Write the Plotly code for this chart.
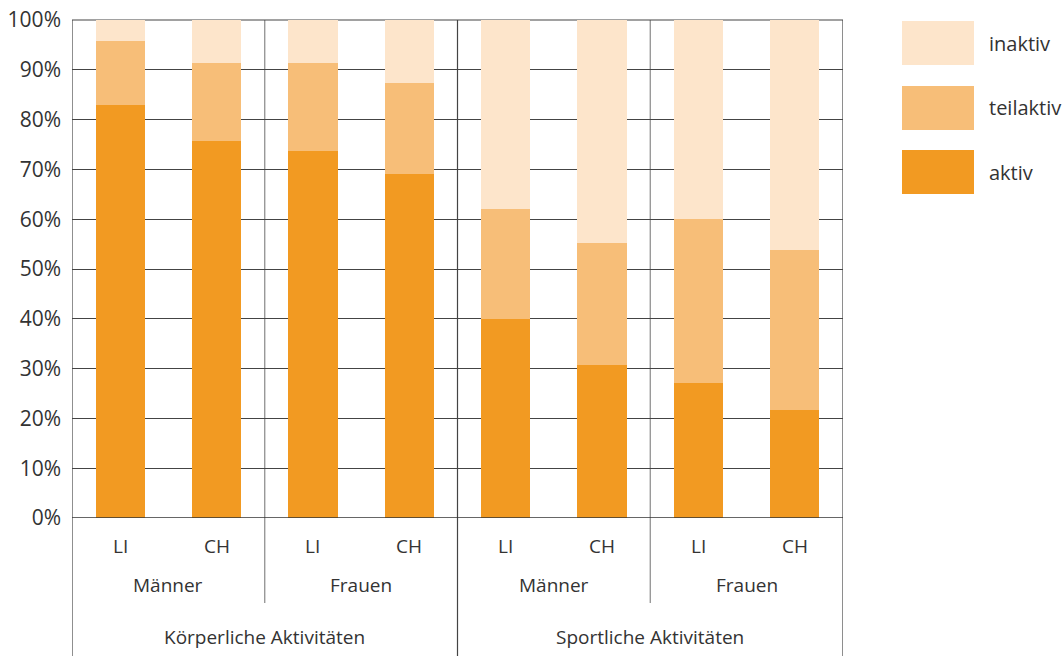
import plotly.graph_objects as go

# data
bar_labels = ["LI", "CH", "LI", "CH", "LI", "CH", "LI", "CH"]
sex_labels = ["Männer", "Frauen", "Männer", "Frauen"]
group_labels = ["Körperliche Aktivitäten", "Sportliche Aktivitäten"]
aktiv = [83.0, 75.8, 73.6, 69.0, 39.9, 30.8, 27.2, 21.6]
teilaktiv = [12.7, 15.5, 17.7, 18.3, 22.1, 24.5, 32.9, 32.3]
inaktiv = [round(100 - a - t, 1) for a, t in zip(aktiv, teilaktiv)]
y_ticks = [0, 10, 20, 30, 40, 50, 60, 70, 80, 90, 100]
y_tick_text = [f"{v}%" for v in y_ticks]

series = [("aktiv", aktiv, "#F29A22"), ("teilaktiv", teilaktiv, "#F7BE78"), ("inaktiv", inaktiv, "#FDE5CB")]

FONT = "Open Sans"
FS = 19
TXT = "#333333"
xpos = [i + 0.5 for i in range(len(bar_labels))]

fig = go.Figure()
for name, vals, col in series:
    fig.add_trace(go.Bar(x=xpos, y=vals, name=name, marker=dict(color=col, line=dict(width=0)),
                         width=0.51, showlegend=False))

W, H = 1062, 656
L, R, T, B = 72, 219, 20, 138
pw, ph = W - L - R, H - T - B

def py(p):  # pixel y -> paper y
    return (H - B - p) / ph

def px(p):
    return (p - L) / pw

shapes = []
# frame / divider lines
for xv, bottom, col in [(0, 656, "#444444"), (4, 656, "#444444"), (8, 656, "#444444"),
                        (2, 603, "#888888"), (6, 603, "#888888")]:
    shapes.append(dict(type="line", xref="x", yref="paper", x0=xv, x1=xv, y0=py(bottom), y1=1,
                       line=dict(color=col, width=1.2), layer="below"))
# top line
shapes.append(dict(type="line", xref="paper", yref="paper", x0=0, x1=1, y0=1, y1=1,
                   line=dict(color="#444444", width=1.2), layer="below"))

annotations = []
for x, lab in zip(xpos, bar_labels):
    annotations.append(dict(x=x, y=py(546), xref="x", yref="paper", text=lab, showarrow=False,
                            font=dict(family=FONT, size=FS, color=TXT), xanchor="center", yanchor="middle"))
for i, lab in enumerate(sex_labels):
    annotations.append(dict(x=2 * i + 1, y=py(585), xref="x", yref="paper", text=lab, showarrow=False,
                            font=dict(family=FONT, size=FS, color=TXT), xanchor="center", yanchor="middle"))
for i, lab in enumerate(group_labels):
    annotations.append(dict(x=4 * i + 2, y=py(637), xref="x", yref="paper", text=lab, showarrow=False,
                            font=dict(family=FONT, size=FS, color=TXT), xanchor="center", yanchor="middle"))

# legend (custom)
leg_boxes = [("inaktiv", "#FDE5CB", 21, 65), ("teilaktiv", "#F7BE78", 86, 130), ("aktiv", "#F29A22", 150, 194)]
for name, col, y0, y1 in leg_boxes:
    shapes.append(dict(type="rect", xref="paper", yref="paper", x0=px(902), x1=px(974), y0=py(y1), y1=py(y0),
                       fillcolor=col, line=dict(width=0)))
    annotations.append(dict(x=px(987), y=py((y0 + y1) / 2), xref="paper", yref="paper", text=name,
                            showarrow=False, xanchor="left", yanchor="middle",
                            font=dict(family=FONT, size=20, color=TXT)))

fig.update_layout(
    width=W, height=H, margin=dict(l=L, r=R, t=T, b=B, autoexpand=False),
    paper_bgcolor="white", plot_bgcolor="white", barmode="stack", bargap=0,
    shapes=shapes, annotations=annotations,
    font=dict(family=FONT, color=TXT),
)
fig.update_xaxes(range=[0, 8], showticklabels=False, showgrid=False, zeroline=False, showline=False,
                 fixedrange=True, automargin=False)
fig.update_yaxes(range=[0, 100], tickvals=y_ticks, ticktext=y_tick_text, showgrid=True, gridcolor="#444444",
                 gridwidth=1.2, zeroline=False, showline=False, ticks="", ticklabelstandoff=10,
                 tickfont=dict(family=FONT, size=21, color=TXT), fixedrange=True, automargin=False)
fig.add_hline(y=0, line=dict(color="#333333", width=1.5), layer="above")

fig.write_html("out.html")
